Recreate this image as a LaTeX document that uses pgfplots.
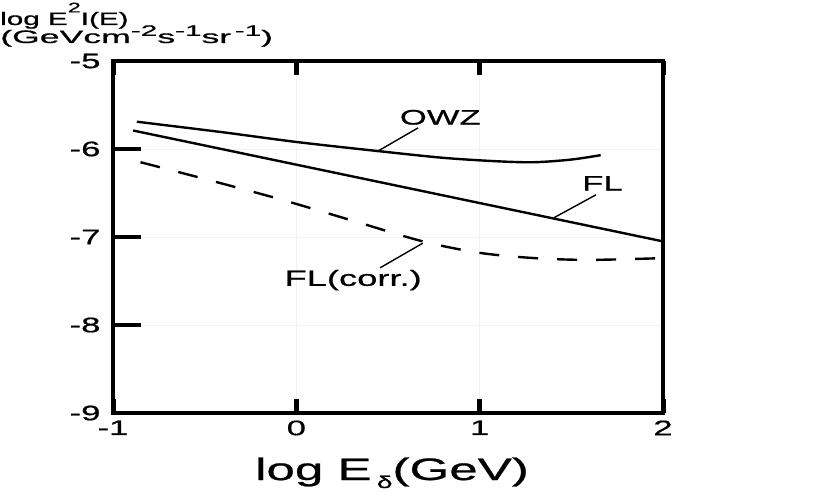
\documentclass[border=0pt]{standalone}
\usepackage{fontspec}
\setmainfont{Liberation Sans}[FakeStretch=1.65, FakeBold=0.8]
\usepackage{pgfplots}
\pgfplotsset{compat=1.18}
\begin{document}
\begin{tikzpicture}[x=1pt,y=1pt]
\useasboundingbox (0,0) rectangle (816,491);
\begin{axis}[
  at={(113pt,78pt)}, anchor=south west, scale only axis,
  width=550pt, height=352pt,
  xmin=-1, xmax=2, ymin=-9, ymax=-5,
  xtick={-1,0,1,2}, ytick={-9,-8,-7,-6,-5},
  /pgf/number format/assume math mode=true,
  tick label style={font=\fontsize{21}{23}\selectfont},
  xticklabel style={yshift=-4pt},
  yticklabel style={xshift=-9pt},
  ytick pos=left, xtick pos=both,
  tick align=inside,
  xtick style={/pgfplots/major tick length=14pt, line width=5pt, black},
  ytick style={/pgfplots/major tick length=28pt, line width=3.5pt, black},
  axis line style={line width=3.5pt},
  grid=major, grid style={gray!10, line width=1pt},
  clip=false,
]
% OWZ
\addplot[black, line width=2.4pt, smooth] coordinates {
  (-0.87,-5.69) (-0.4,-5.81) (0,-5.92) (0.43,-6.02) (0.8,-6.10)
  (1.1,-6.14) (1.3,-6.15) (1.5,-6.12) (1.66,-6.07)};
% FL
\addplot[black, line width=2.4pt] coordinates {(-0.89,-5.79) (2,-7.05)};
% FL(corr.)
\addplot[black, line width=2.4pt, smooth, dash pattern=on 20pt off 19pt] coordinates {
  (-0.85,-6.15) (-0.5,-6.34) (-0.09,-6.57) (0.3,-6.81) (0.69,-7.05)
  (1.0,-7.18) (1.3,-7.24) (1.6,-7.26) (2.0,-7.24)};
% labels
\draw[line width=1.4pt] (axis cs:0.44,-6.03) -- (axis cs:0.664,-5.76);
\node[font=\fontsize{21}{23}\selectfont] at (axis cs:0.785,-5.64) {OWZ};
\draw[line width=1.4pt] (axis cs:1.406,-6.78) -- (axis cs:1.635,-6.52);
\node[font=\fontsize{21}{23}\selectfont] at (axis cs:1.67,-6.39) {FL};
\draw[line width=1.4pt] (axis cs:0.69,-7.07) -- (axis cs:0.457,-7.35);
\node[font=\fontsize{22}{24}\selectfont] at (axis cs:0.31,-7.49) {FL(corr.)};
\end{axis}
\node[anchor=base west, inner sep=0, font=\fontsize{18}{20}\selectfont] at (0,466) {log E\raisebox{0.7em}{\fontsize{14}{14}\selectfont 2}I(E)};
\node[anchor=base west, inner sep=0, font=\fontsize{18}{20}\selectfont] at (0,448) {\scalebox{1.2}[1]{(GeVcm\raisebox{0.4em}{\fontsize{15}{15}\selectfont -2}s\raisebox{0.4em}{\fontsize{15}{15}\selectfont -1}sr\,\raisebox{0.4em}{\fontsize{15}{15}\selectfont -1})}};
\node[anchor=base, inner sep=0, font=\fontsize{31}{33}\selectfont] at (392,11) {log E\,\raisebox{-8pt}{\fontsize{17}{17}\selectfont δ}(GeV)};
\end{tikzpicture}
\end{document}
